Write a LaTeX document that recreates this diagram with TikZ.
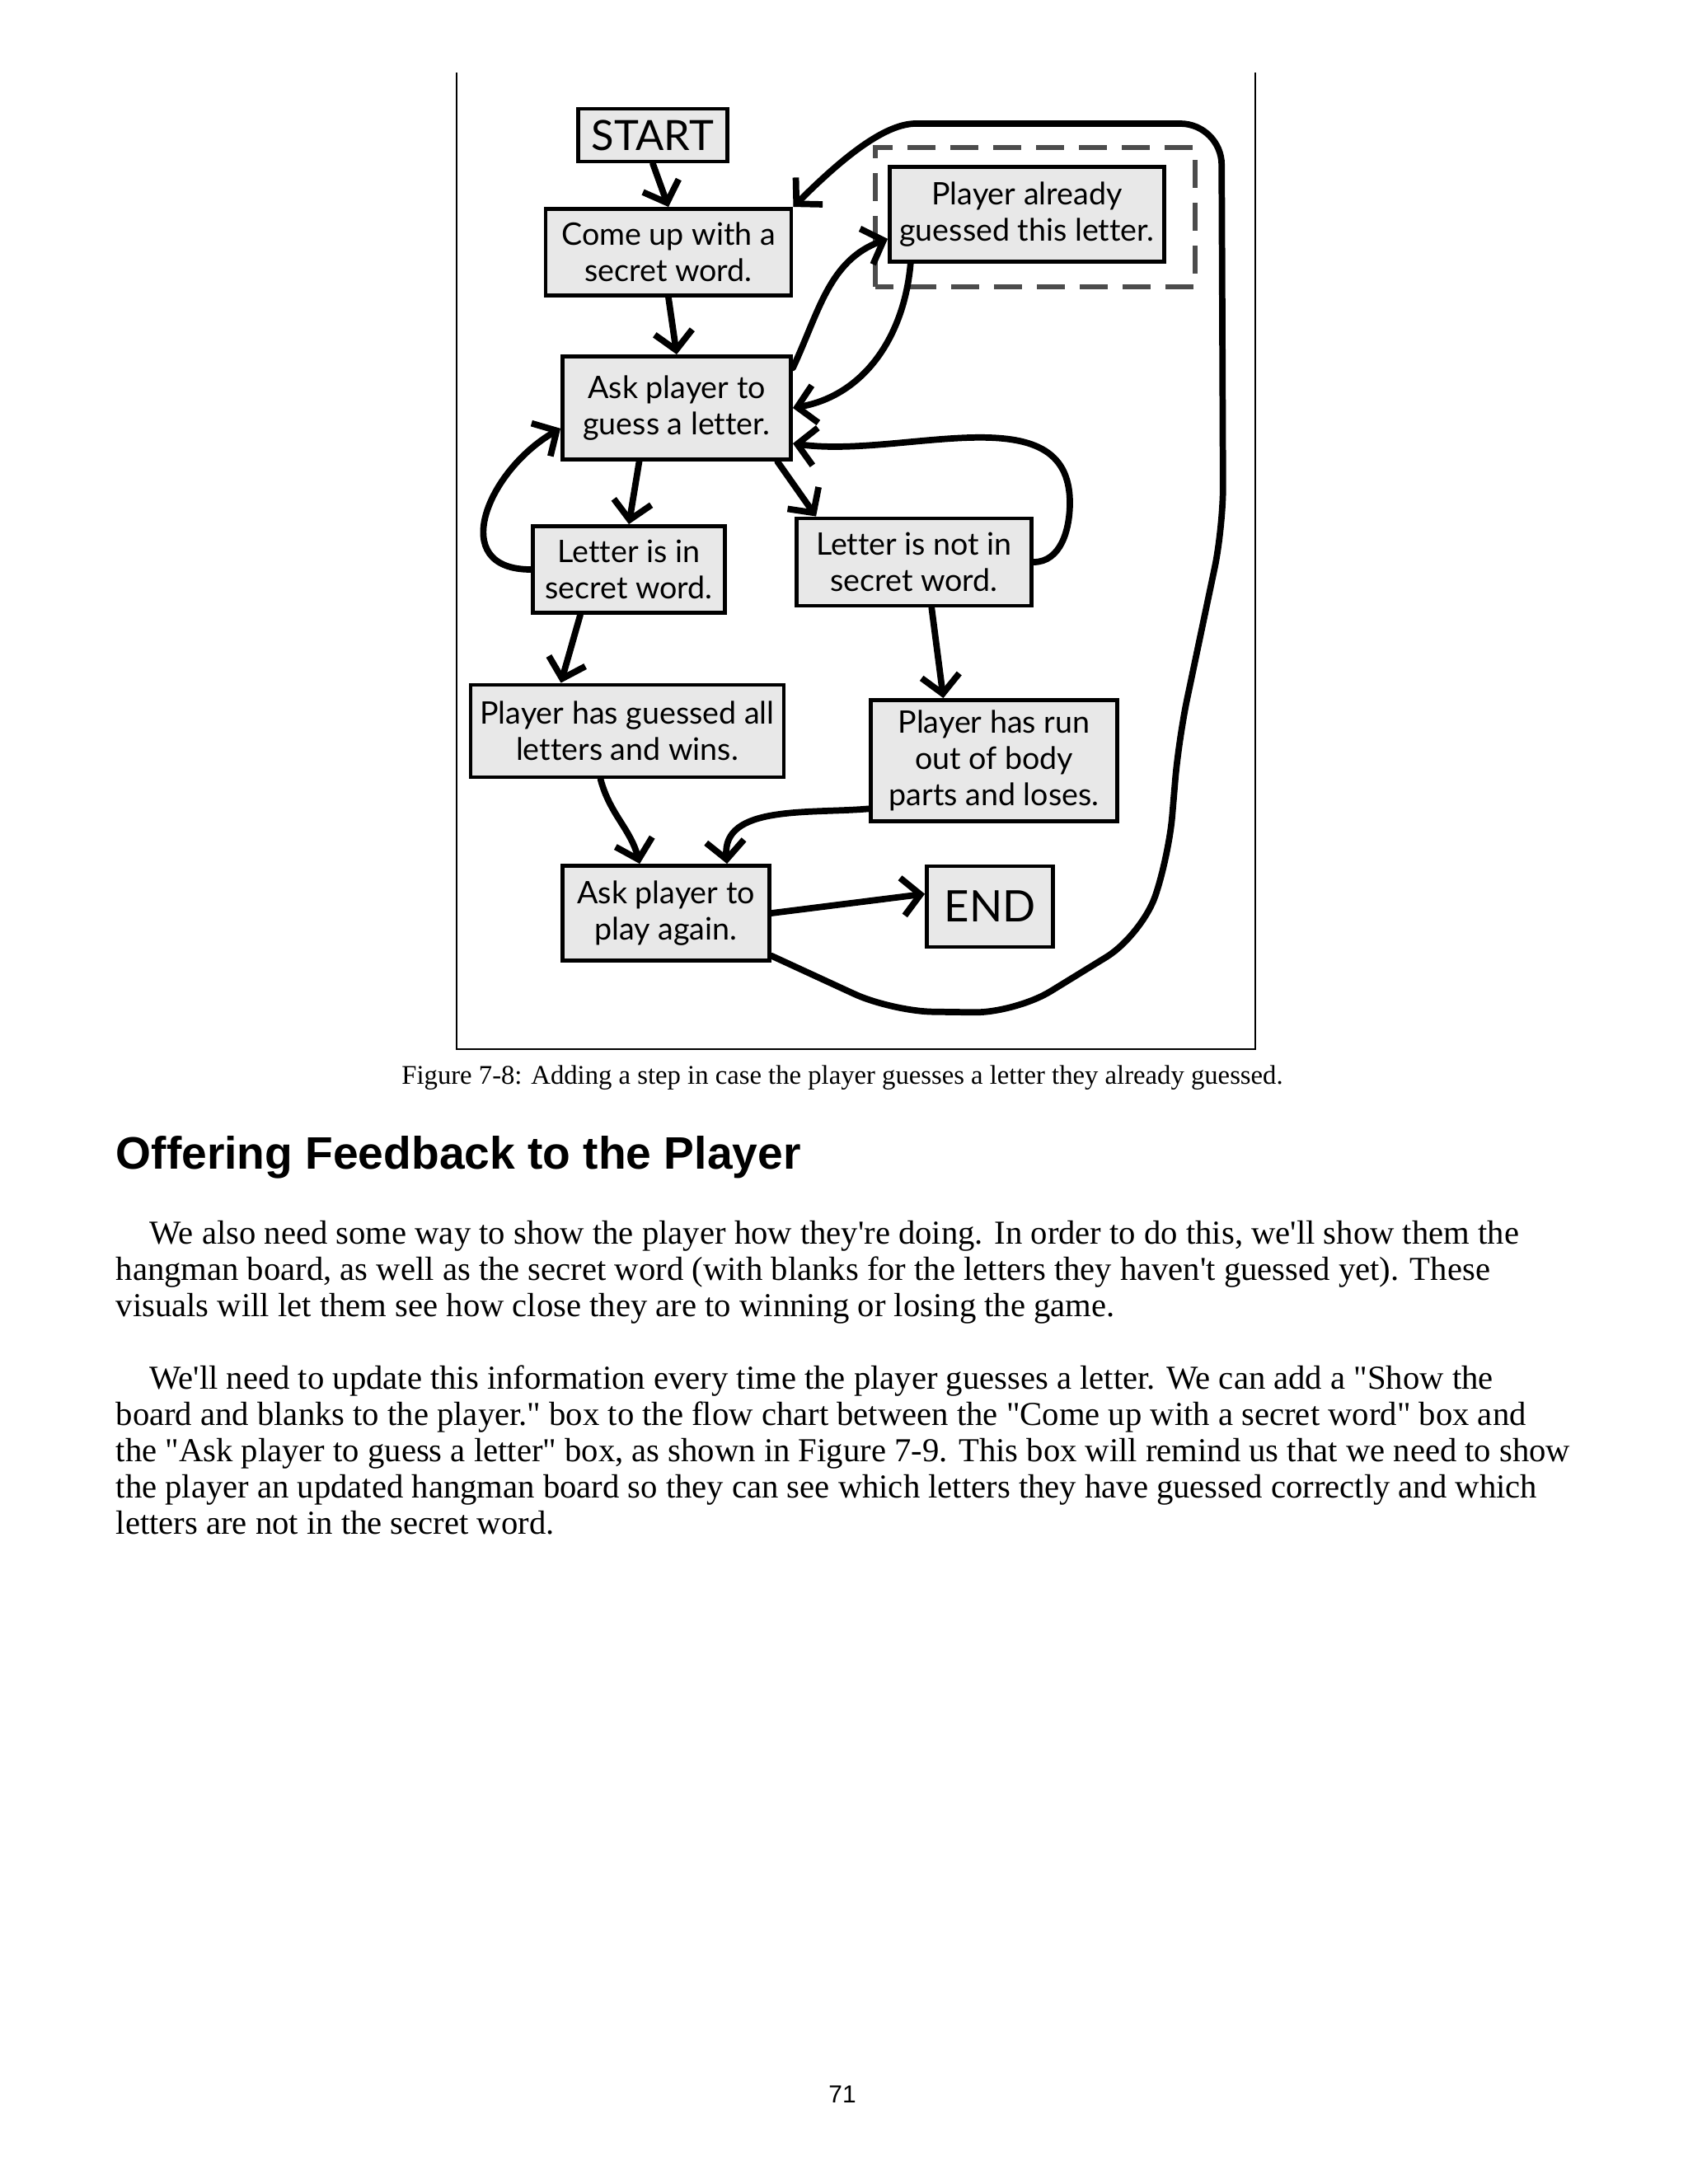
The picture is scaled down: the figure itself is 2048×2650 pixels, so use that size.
\documentclass[tikz,border=0pt]{standalone}
\usepackage{fontspec}
\usetikzlibrary{arrows.meta}
\newfontfamily\bodyfont{Liberation Serif}
\newfontfamily\headfont{Liberation Sans}
\newfontfamily\handfont[Ligatures=NoCommon]{Lato}
\definecolor{boxgray}{gray}{0.91}
\definecolor{dashgray}{gray}{0.3}
\tikzset{
  box/.style={draw, line width=1.4pt, fill=boxgray, align=center, inner sep=0pt,
    font=\handfont\fontsize{10.7}{12.5}\selectfont},
  arr/.style={line width=2.2pt, line cap=round, -{Straight Barb[length=2.2mm,width=4.6mm]}},
  dashbox/.style={draw=dashgray, line width=1.6pt, dash pattern=on 3.4mm off 1.8mm},
  bodyline/.style={anchor=base west, inner sep=0pt, font=\bodyfont\fontsize{11.57}{12.5}\selectfont}
}
\begin{document}
\begin{tikzpicture}[x=0.1mm,y=-0.1mm]
\useasboundingbox (0,0) rectangle (2048,2650);
\draw [line width=0.6pt] (554,88)--(554,1273)--(1523,1273)--(1523,88);

\node[box, minimum width=18.1mm, minimum height=6.4mm, font=\handfont\fontsize{14.4}{15}\selectfont] (start) at (792,164) {START};
\node[box, minimum width=29.8mm, minimum height=10.5mm] (come) at (811,306) {Come up with a\\secret word.};
\node[box, minimum width=33.3mm, minimum height=11.5mm] (already) at (1246,260) {Player already\\guessed this letter.};
\draw[dashbox] ([shift={(-15,28)}]already.south west) rectangle ([shift={(35,-21)}]already.north east);
\node[box, minimum width=27.7mm, minimum height=12.5mm] (ask) at (821,495) {Ask player to\\guess a letter.};
\node[box, minimum width=23.3mm, minimum height=10.5mm] (letterin) at (763,691) {Letter is in\\secret word.};
\node[box, minimum width=28.5mm, minimum height=10.6mm] (letternot) at (1109,682) {Letter is not in\\secret word.};
\node[box, minimum width=38mm, minimum height=11.2mm] (wins) at (761,887) {Player has guessed all\\letters and wins.};
\node[box, minimum width=29.9mm, minimum height=14.7mm] (loses) at (1206,923) {Player has run\\out of body\\parts and loses.};
\node[box, minimum width=25.1mm, minimum height=11.5mm] (again) at (808,1108) {Ask player to\\play again.};
\node[box, minimum width=15.3mm, minimum height=9.8mm, font=\handfont\fontsize{15}{15}\selectfont] (endbox) at (1201,1100) {END};

\coordinate (lpA) at (1082,1227);
\coordinate (lpB) at (1232,1229);
\coordinate (lpC) at (1385,1135);
\coordinate (lpD) at (1418,1040);
\coordinate (lpE) at (1430,897);
\coordinate (lpF) at (1484,640);
\coordinate (lpG) at (1482,150);
\coordinate (lpH) at (1161,150);
\coordinate (lpR) at (1298,610);

\draw[arr] (start.south)--(come.north);
\draw[arr] (come.south)--(ask.north);
\draw[arr] (ask.19) to[out=65,in=200] (already.190);
\draw[arr] (already.203) to[out=-95,in=10] (ask.east);
\draw[arr, rounded corners=5mm] (again.-22)--(lpA)--(lpB)--(lpC)--(lpD)--(lpE)--(lpF)--(lpG)--(lpH) to[out=180,in=45] (come.north east);
\draw[arr] (ask.235)--(letterin.north);
\draw[arr] (ask.-28)--(letternot.155);
\draw[arr] (letterin.west) to[out=180,in=210,looseness=1.5] (ask.190);
\draw[arr] (letternot.east) to[out=0,in=-90] (lpR) to[out=90,in=-8] (ask.-17);
\draw[arr] (letterin.223)--(wins.144);
\draw[arr] (letternot.-69)--(loses.129);
\draw[arr] (wins.241) to[out=-75,in=105] (again.118);
\draw[arr] (loses.201) to[out=185,in=95] (again.39);
\draw[arr] (again.east)--(endbox.169);

\node[anchor=base, inner sep=0pt, font=\bodyfont\fontsize{9.3}{10}\selectfont] (caption) at (1022,1315) {Figure 7-8: Adding a step in case the player guesses a letter they already guessed.};
\node[anchor=base west, inner sep=0pt, font=\headfont\bfseries\fontsize{15.7}{18}\selectfont] (heading) at (140,1418) {Offering Feedback to the Player};

\node[bodyline] (pa1) at (181,1509) {We also need some way to show the player how they're doing. In order to do this, we'll show them the};
\node[bodyline] (pa2) at (140,1553) {hangman board, as well as the secret word (with blanks for the letters they haven't guessed yet). These};
\node[bodyline] (pa3) at (140,1597) {visuals will let them see how close they are to winning or losing the game.};
\node[bodyline] (pb1) at (181,1685) {We'll need to update this information every time the player guesses a letter. We can add a "Show the};
\node[bodyline] (pb2) at (140,1729) {board and blanks to the player." box to the flow chart between the "Come up with a secret word" box and};
\node[bodyline] (pb3) at (140,1773) {the "Ask player to guess a letter" box, as shown in Figure 7-9. This box will remind us that we need to show};
\node[bodyline] (pb4) at (140,1817) {the player an updated hangman board so they can see which letters they have guessed correctly and which};
\node[bodyline] (pb5) at (140,1861) {letters are not in the secret word.};

\node[anchor=base, inner sep=0pt, font=\headfont\fontsize{8.5}{10}\selectfont] (pagenum) at (1022,2551) {71};
\end{tikzpicture}
\end{document}
